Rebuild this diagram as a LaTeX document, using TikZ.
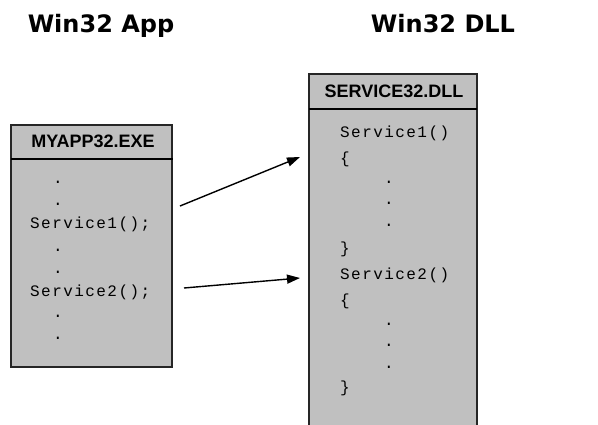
\documentclass[tikz,border=0pt]{standalone}
\usepackage{fontspec}
\usetikzlibrary{arrows.meta}
\newfontfamily\titlefont{DejaVu Sans}
\newfontfamily\headfont{Liberation Sans}
\newfontfamily\codefont[LetterSpace=9]{Liberation Mono}
\definecolor{boxgray}{HTML}{C0C0C0}
\tikzset{
  title/.style={font=\titlefont\bfseries\fontsize{24}{28}\selectfont, anchor=base, inner sep=0pt},
  head/.style={font=\headfont\bfseries\fontsize{18}{20}\selectfont, anchor=base, inner sep=0pt},
  code/.style={font=\codefont\fontsize{16}{18}\selectfont, anchor=base west, inner sep=0pt},
  modbox/.style={fill=boxgray, draw=black!85, line width=1.6pt},
  sep/.style={draw=black, line width=2.6pt},
  callarrow/.style={draw=black, line width=1.4pt, -{Triangle[length=13pt,width=9pt]}}
}
\begin{document}
\begin{tikzpicture}[x=1pt,y=-1pt]
\useasboundingbox (0,0) rectangle (598,424);
% titles
\node[title] (tapp) at (101,32) {Win32 App};
\node[title] (tdll) at (443,32) {Win32 DLL};
% left box
\path[modbox] (11,125) rectangle (172,367);
\path[sep] (11,159) -- (173,159);
\node[head] (happ) at (93,147) {MYAPP32.EXE};
\node[code] (a1) at (53,183) {.};
\node[code] (a2) at (53,205) {.};
\node[code] (s1) at (30,228) {Service1();};
\node[code] (a3) at (53,251) {.};
\node[code] (a4) at (53,273) {.};
\node[code] (s2) at (30,296) {Service2();};
\node[code] (a5) at (53,317) {.};
\node[code] (a6) at (53,339) {.};
% right box
\path[modbox] (309,425) -- (309,74) -- (477,74) -- (477,425);
\path[sep] (309,109) -- (477,109);
\node[head] (hdll) at (394,97) {SERVICE32.DLL};
\node[code] (d1) at (340,137) {Service1()};
\node[code] (b1) at (340,163) {\{};
\node[code] (e1) at (384,183) {.};
\node[code] (e2) at (384,204) {.};
\node[code] (e3) at (384,226) {.};
\node[code] (c1) at (340,253) {\}};
\node[code] (d2) at (340,279) {Service2()};
\node[code] (b2) at (340,305) {\{};
\node[code] (e4) at (384,325) {.};
\node[code] (e5) at (384,346) {.};
\node[code] (e6) at (384,368) {.};
\node[code] (c2) at (340,392) {\}};
% arrows
\coordinate (p1) at (180,206);
\coordinate (q1) at (300,157);
\coordinate (p2) at (184,288);
\coordinate (q2) at (300,278);
\draw[callarrow] (p1) -- (q1);
\draw[callarrow] (p2) -- (q2);
\end{tikzpicture}
\end{document}
